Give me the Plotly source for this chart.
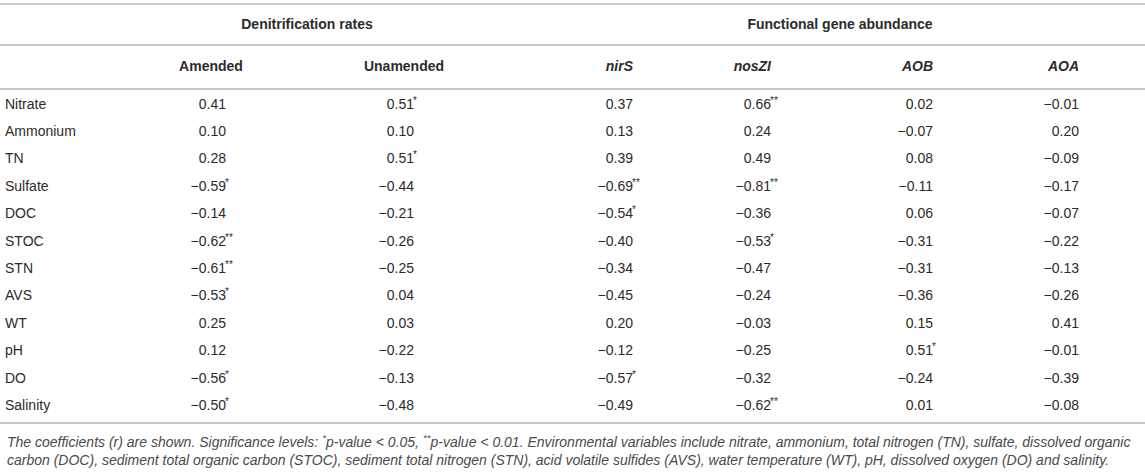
"""Correlation table: denitrification rates and functional gene abundance
versus environmental variables, drawn as a Plotly text table."""

import plotly.graph_objects as go

# ---------------------------------------------------------------------------
# Data
# ---------------------------------------------------------------------------

variables = ["Nitrate", "Ammonium", "TN", "Sulfate", "DOC", "STOC",
             "STN", "AVS", "WT", "pH", "DO", "Salinity"]

group_titles = ["Denitrification rates", "Functional gene abundance"]
column_titles = ["Amended", "Unamended", "nirS", "nosZI", "AOB", "AOA"]

amended = [0.41, 0.10, 0.28, -0.59, -0.14, -0.62, -0.61, -0.53, 0.25, 0.12, -0.56, -0.50]
amended_sig = [0, 0, 0, 1, 0, 2, 2, 1, 0, 0, 1, 1]

unamended = [0.51, 0.10, 0.51, -0.44, -0.21, -0.26, -0.25, 0.04, 0.03, -0.22, -0.13, -0.48]
unamended_sig = [1, 0, 1, 0, 0, 0, 0, 0, 0, 0, 0, 0]

nirs = [0.37, 0.13, 0.39, -0.69, -0.54, -0.40, -0.34, -0.45, 0.20, -0.12, -0.57, -0.49]
nirs_sig = [0, 0, 0, 2, 1, 0, 0, 0, 0, 0, 1, 0]

noszi = [0.66, 0.24, 0.49, -0.81, -0.36, -0.53, -0.47, -0.24, -0.03, -0.25, -0.32, -0.62]
noszi_sig = [2, 0, 0, 2, 0, 1, 0, 0, 0, 0, 0, 2]

aob = [0.02, -0.07, 0.08, -0.11, 0.06, -0.31, -0.31, -0.36, 0.15, 0.51, -0.24, 0.01]
aob_sig = [0, 0, 0, 0, 0, 0, 0, 0, 0, 1, 0, 0]

aoa = [-0.01, 0.20, -0.09, -0.17, -0.07, -0.22, -0.13, -0.26, 0.41, -0.01, -0.39, -0.08]
aoa_sig = [0, 0, 0, 0, 0, 0, 0, 0, 0, 0, 0, 0]

caption = ("The coefficients (r) are shown. Significance levels: <sup>*</sup>p-value &lt; 0.05, "
           "<sup>**</sup>p-value &lt; 0.01. Environmental variables include nitrate, ammonium, "
           "total nitrogen (TN), sulfate, dissolved organic<br>carbon (DOC), sediment "
           "total organic carbon (STOC), sediment total nitrogen (STN), acid volatile "
           "sulfides (AVS), water temperature (WT), pH, dissolved oxygen (DO) and salinity.")

# ---------------------------------------------------------------------------
# Layout constants (pixel space of the 1145 x 473 page)
# ---------------------------------------------------------------------------

W, H = 1145, 473
FONT = "Liberation Sans, Arial, Helvetica, sans-serif"
TEXT = "#2b2b2b"
RULE = "#c9c9c9"

ROW0, ROW_H = 105, 27.4
LABEL_X = 5
# right edge of the digits in each value column
VALUE_X = [226, 414, 633, 771, 933, 1079]
HEADER_X = [211, 404, 633, 771, 933, 1079]
HEADER_ANCHOR = ["middle center", "middle center", "middle left",
                 "middle left", "middle left", "middle left"]
GROUP_X = [307, 840]
Y_GROUP, Y_HEAD = 25, 67
RULES_Y = [4, 45, 89, 423]
Y_CAPTION = 450


def fmt(v):
    s = f"{abs(v):.2f}"
    return ("\u2212" + s) if v < 0 else s


columns = [(amended, amended_sig), (unamended, unamended_sig), (nirs, nirs_sig),
           (noszi, noszi_sig), (aob, aob_sig), (aoa, aoa_sig)]
row_y = [ROW0 + i * ROW_H for i in range(len(variables))]

fig = go.Figure()

# row labels
fig.add_trace(go.Scatter(
    x=[LABEL_X] * len(variables), y=row_y, text=variables,
    mode="text", textposition="middle right", cliponaxis=False,
    textfont=dict(family=FONT, size=14, color=TEXT), hoverinfo="skip",
))

for (vals, sig), x in zip(columns, VALUE_X):
    # numbers, right-aligned on the last digit
    fig.add_trace(go.Scatter(
        x=[x] * len(vals), y=row_y, text=[fmt(v) for v in vals],
        mode="text", textposition="middle left", cliponaxis=False,
        textfont=dict(family=FONT, size=14, color=TEXT), hoverinfo="skip",
    ))
    # significance stars hanging to the right (only where there are any)
    starred = [i for i, s in enumerate(sig) if s]
    if starred:
        fig.add_trace(go.Scatter(
            x=[x - 1] * len(starred), y=[row_y[i] - 4 for i in starred],
            text=["*" * sig[i] for i in starred],
            mode="text", textposition="middle right", cliponaxis=False,
            textfont=dict(family=FONT, size=10, color=TEXT), hoverinfo="skip",
        ))

# column headers
for title, x, pos in zip(column_titles, HEADER_X, HEADER_ANCHOR):
    label = f"<b>{title}</b>" if title in ("Amended", "Unamended") else f"<b><i>{title}</i></b>"
    fig.add_trace(go.Scatter(
        x=[x], y=[Y_HEAD], text=[label], mode="text", textposition=pos,
        cliponaxis=False,
        textfont=dict(family=FONT, size=14, color=TEXT), hoverinfo="skip",
    ))

# group headers
fig.add_trace(go.Scatter(
    x=GROUP_X, y=[Y_GROUP] * 2, text=[f"<b>{t}</b>" for t in group_titles],
    mode="text", textposition="middle center", cliponaxis=False,
    textfont=dict(family=FONT, size=14, color=TEXT), hoverinfo="skip",
))

for y in RULES_Y:
    fig.add_shape(type="line", x0=0, x1=W, y0=y, y1=y, xref="x", yref="y",
                  line=dict(color=RULE, width=2))

fig.add_annotation(
    x=LABEL_X, y=Y_CAPTION, xref="x", yref="y", text=f"<i>{caption}</i>",
    showarrow=False, xanchor="left", yanchor="middle", align="left",
    font=dict(family=FONT, size=14, color="#4a4a4a"),
)

fig.update_xaxes(range=[0, W], visible=False, fixedrange=True)
fig.update_yaxes(range=[H, 0], visible=False, fixedrange=True)
fig.update_layout(
    width=W, height=H, margin=dict(l=0, r=0, t=0, b=0),
    plot_bgcolor="white", paper_bgcolor="white", showlegend=False,
)

# drop the browser's default 8px body margin so the table fills the window
fig.write_html(
    "out.html",
    config={"displayModeBar": False},
    post_script="document.body.style.margin = '0px';",
)
